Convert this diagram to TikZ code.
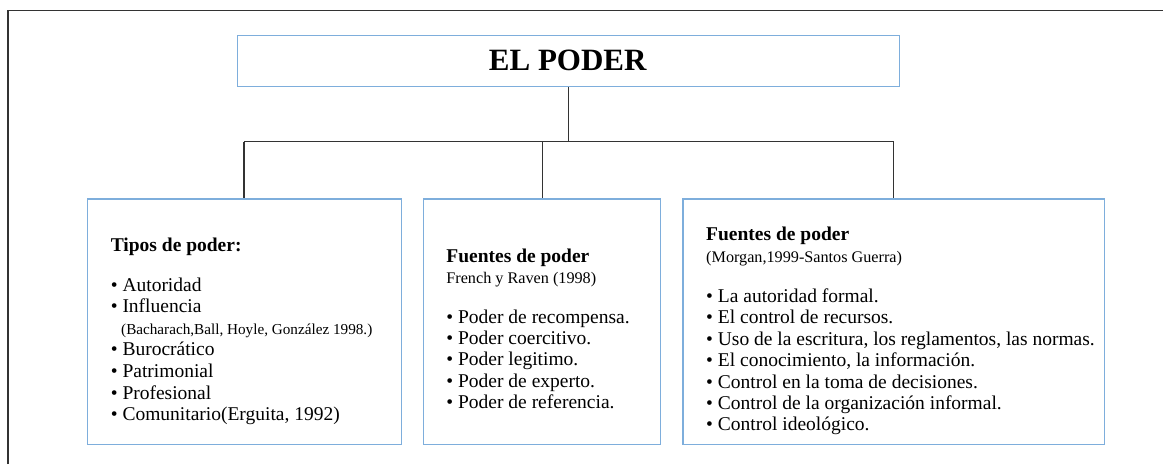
\documentclass[tikz,border=0pt]{standalone}
\usepackage{fontspec}
\setmainfont{Liberation Serif}
\definecolor{boxblue}{HTML}{7EAEDC}
\definecolor{framegray}{HTML}{333333}
\begin{document}
\begin{tikzpicture}[x=1pt,y=-1pt]
\tikzset{
  blbox/.style={draw=boxblue, line width=1.3pt, inner sep=0pt, anchor=north west},
  conn/.style={draw=black!80, line width=1.1pt},
  frameline/.style={draw=framegray, line width=1.5pt},
  txt/.style={anchor=base west, inner sep=0pt, font=\fontsize{19.5}{21}\selectfont},
  hd/.style={anchor=base west, inner sep=0pt, font=\fontsize{19.5}{21}\selectfont\bfseries},
  citetxt/.style={anchor=base west, inner sep=0pt, font=\fontsize{16.2}{18}\selectfont},
  smallcite/.style={anchor=base west, inner sep=0pt, font=\fontsize{15.2}{17}\selectfont},
}
\useasboundingbox (0,0) rectangle (1163,464);
% outer frame (only left and top visible)
\coordinate (fr0) at (8,464);
\coordinate (fr1) at (8,10.7);
\coordinate (fr2) at (1163,10.7);
\draw[frameline] (fr0) -- (fr1) -- (fr2);

% title
\node[blbox, minimum width=662pt, minimum height=51pt] (title) at (236.7,35) {};
\node[anchor=base, inner sep=0pt, font=\fontsize{31}{31}\selectfont\bfseries] (titletext) at (567.7,70.7) {EL PODER};

% boxes
\node[blbox, minimum width=314pt, minimum height=245.7pt] (b1) at (87,198.3) {};
\node[blbox, minimum width=237.3pt, minimum height=245.7pt] (b2) at (422.7,198.3) {};
\node[blbox, minimum width=421.7pt, minimum height=245.7pt] (b3) at (682.3,198.3) {};

% connectors
\coordinate (j1) at (244,141.7);
\coordinate (j2) at (542.3,141.7);
\coordinate (j3) at (893.7,141.7);
\draw[conn] (title.south) -- (title.south |- j1);
\draw[conn] (j1) -- (j3);
\draw[conn] (j1) -- (j1 |- b1.north);
\draw[conn] (j2) -- (j2 |- b2.north);
\draw[conn] (j3) -- (j3 |- b3.north);

% box 1 text
\node[hd] (t1h) at (110.6,251) {Tipos de poder:};
\node[txt] (t1a) at (110.6,291) {•\ Autoridad};
\node[txt] (t1b) at (110.6,312.7) {•\ Influencia};
\node[smallcite] (t1c) at (121,334) {(Bacharach,Ball, Hoyle, González 1998.)};
\node[txt] (t1d) at (110.6,355.7) {•\ Burocrático};
\node[txt] (t1e) at (110.6,377.7) {•\ Patrimonial};
\node[txt] (t1f) at (110.6,399) {•\ Profesional};
\node[txt] (t1g) at (110.6,420.7) {•\ Comunitario(Erguita, 1992)};

% box 2 text
\node[hd] (t2h) at (446.2,262.7) {Fuentes de poder};
\node[citetxt] (t2c) at (446.2,283.3) {French y Raven (1998)};
\node[txt] (t2a) at (446.2,323.3) {•\ Poder de recompensa.};
\node[txt] (t2b) at (446.2,344.3) {•\ Poder coercitivo.};
\node[txt] (t2d) at (446.2,365.7) {•\ Poder legitimo.};
\node[txt] (t2e) at (446.2,387.3) {•\ Poder de experto.};
\node[txt] (t2f) at (446.2,408.3) {•\ Poder de referencia.};

% box 3 text
\node[hd] (t3h) at (706,240.7) {Fuentes de poder};
\node[citetxt] (t3c) at (706,262.7) {(Morgan,1999-Santos Guerra)};
\node[txt] (t3a) at (706,302.3) {•\ La autoridad formal.};
\node[txt] (t3b) at (706,323.3) {•\ El control de recursos.};
\node[txt] (t3d) at (706,345) {•\ Uso de la escritura, los reglamentos, las normas.};
\node[txt] (t3e) at (706,366.7) {•\ El conocimiento, la información.};
\node[txt] (t3f) at (706,388.3) {•\ Control en la toma de decisiones.};
\node[txt] (t3g) at (706,409.3) {•\ Control de la organización informal.};
\node[txt] (t3i) at (706,430.7) {•\ Control ideológico.};
\end{tikzpicture}
\end{document}
